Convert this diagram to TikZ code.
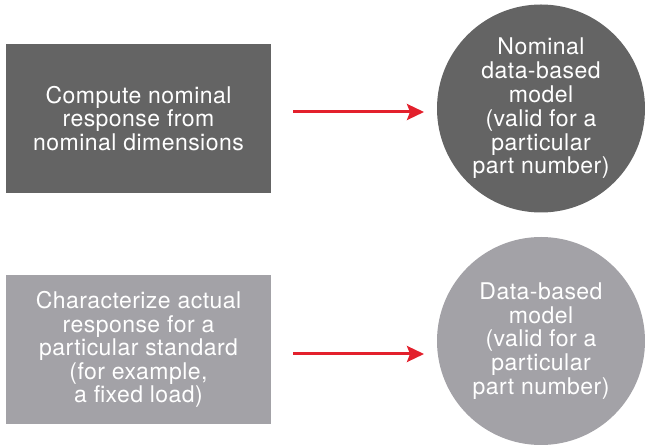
\documentclass[tikz,border=0pt]{standalone}
\usepackage{fontspec}
\setmainfont[LetterSpace=2]{TeX Gyre Heros}
\usepackage{tikz}
\usetikzlibrary{positioning,arrows.meta}

\definecolor{darkBox}{HTML}{646464}
\definecolor{lightBox}{HTML}{A3A2A7}
\definecolor{flowRed}{HTML}{E3202C}

\tikzset{
  stepbox/.style={rectangle, minimum width=265pt, minimum height=149pt, inner sep=0pt,
    text=white, align=center, font=\fontsize{23}{23.5}\selectfont},
  modelcircle/.style={circle, minimum size=208pt, inner sep=0pt,
    text=white, align=center, font=\fontsize{23}{23.8}\selectfont},
  flow/.style={flowRed, line width=3pt, -{Stealth[length=17pt,width=16pt,inset=3pt]}}
}

\begin{document}
\begin{tikzpicture}[x=1pt,y=1pt]
  % Fix the page size
  \useasboundingbox (0,0) rectangle (645,446);

  % Draw the nominal row
  \node[stepbox, fill=darkBox] (nomBox) at (138.5,327.5)
    {Compute nominal\\response from\\nominal dimensions};
  \node[modelcircle, fill=darkBox] (nomModel) at (541,337.5)
    {Nominal\\data-based\\model\\(valid for a\\particular\\part number)};

  % Draw the actual row
  \node[stepbox, fill=lightBox] (actBox) at (138.5,96.5)
    {Characterize actual\\response for a\\particular standard\\(for example,\\a fixed load)};
  \node[modelcircle, fill=lightBox] (actModel) at (541,105)
    {Data-based\\model\\(valid for a\\particular\\part number)};

  % Arrow end points
  \coordinate (nomFrom) at (293,334);
  \coordinate (nomTo) at (424,334);
  \coordinate (actFrom) at (293,92);
  \coordinate (actTo) at (424,92);

  % Draw the arrows
  \draw[flow] (nomFrom) -- (nomTo);
  \draw[flow] (actFrom) -- (actTo);

\end{tikzpicture}
\end{document}
